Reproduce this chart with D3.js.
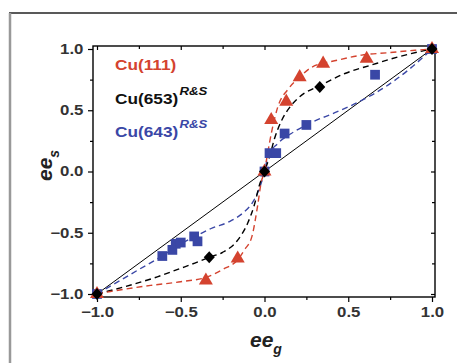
<!DOCTYPE html>
<html>
<head>
<meta charset="utf-8">
<script src="https://cdn.jsdelivr.net/npm/d3@7"></script>
<style>
  body { margin: 0; background: #fff; }
  svg { display: block; font-family: "Liberation Sans", Arial, sans-serif; }
</style>
</head>
<body>
<svg id="canvas" width="457" height="363"></svg>
<script>
// measured points (ee_g, ee_s)
var cu111X = [-1, -0.35, -0.16, 0, 0.04, 0.13, 0.21, 0.35, 0.61, 1];
var cu111Y = [-1, -0.89, -0.71, 0, 0.42, 0.57, 0.77, 0.88, 0.92, 1];
var cu653X = [-1, -0.33, 0, 0.33, 1];
var cu653Y = [-1, -0.70, 0, 0.69, 1];
var cu643X = [-1, -0.61, -0.55, -0.53, -0.50, -0.42, -0.40, 0, 0.03, 0.07, 0.12, 0.25, 0.66, 1];
var cu643Y = [-1, -0.69, -0.64, -0.59, -0.58, -0.53, -0.57, 0, 0.15, 0.15, 0.31, 0.38, 0.79, 1];

// dashed fit curves
var fit111 = [[-1,-1],[-0.92,-0.98],[-0.68,-0.93],[-0.5,-0.90],[-0.34,-0.86],[-0.25,-0.80],[-0.16,-0.72],
  [-0.12,-0.64],[-0.075,-0.53],[-0.04,-0.27],[-0.02,-0.09],[0,0],[0.015,0.12],[0.045,0.34],[0.08,0.53],
  [0.14,0.67],[0.21,0.77],[0.28,0.85],[0.44,0.91],[0.58,0.95],[0.74,0.97],[0.9,0.99],[1,1]];
var fit653 = [[-1,-1],[-0.86,-0.95],[-0.64,-0.86],[-0.5,-0.79],[-0.44,-0.76],[-0.33,-0.70],[-0.25,-0.66],
  [-0.16,-0.56],[-0.10,-0.42],[-0.06,-0.27],[-0.03,-0.11],[0,0],[0.03,0.12],[0.06,0.27],[0.10,0.41],
  [0.16,0.54],[0.21,0.61],[0.33,0.70],[0.48,0.80],[0.64,0.87],[0.81,0.94],[1,1]];
var fit643 = [[-1,-1],[-0.9,-0.92],[-0.75,-0.80],[-0.6,-0.68],[-0.5,-0.59],[-0.4,-0.52],[-0.31,-0.46],
  [-0.21,-0.41],[-0.13,-0.34],[-0.07,-0.25],[-0.04,-0.17],[0,0],[0.02,0.12],[0.08,0.23],[0.16,0.31],
  [0.28,0.40],[0.42,0.48],[0.58,0.58],[0.72,0.69],[0.86,0.83],[1,1]];

var majorTicks = [-1, -0.5, 0, 0.5, 1];
var minorTicks = [-0.75, -0.25, 0.25, 0.75];

var red = "#d4432f", blue = "#3a47a6", black = "#000";

var svg = d3.select("#canvas");

// outer frame (top black, left grey)
svg.append("line").attr("x1", 9).attr("x2", 457).attr("y1", 13).attr("y2", 13)
  .attr("stroke", "#222").attr("stroke-width", 1.5);
svg.append("line").attr("x1", 10).attr("x2", 10).attr("y1", 13).attr("y2", 363)
  .attr("stroke", "#999").attr("stroke-width", 2.5);

var x = d3.scaleLinear().domain([-1, 1]).range([97, 432]);
var y = d3.scaleLinear().domain([-1, 1]).range([294, 49]);
var L = 93, R = 435, T = 46, B = 297;

var fmt = d3.format(".1f");

// the source figure is a little stretched sideways, so are its labels
function styleAxis(g, labels) {
  g.select(".domain").remove();
  g.selectAll("line").attr("stroke", "#000").attr("stroke-width", 1.2);
  g.selectAll("text").attr("fill", "#333").style("font-size", "14px").style("font-weight", "bold")
    .attr("transform", "scale(1.2,1)");
  if (!labels) g.selectAll("text").remove();
}

// bottom
svg.append("g").attr("transform", "translate(0," + B + ")")
  .call(d3.axisBottom(x).tickValues(majorTicks).tickFormat(fmt).tickSize(5).tickPadding(5))
  .call(styleAxis, true);
svg.append("g").attr("transform", "translate(0," + B + ")")
  .call(d3.axisBottom(x).tickValues(minorTicks).tickSize(3)).call(styleAxis, false);
// left
svg.append("g").attr("transform", "translate(" + L + ",0)")
  .call(d3.axisLeft(y).tickValues(majorTicks).tickFormat(fmt).tickSize(5).tickPadding(3))
  .call(styleAxis, true);
svg.append("g").attr("transform", "translate(" + L + ",0)")
  .call(d3.axisLeft(y).tickValues(minorTicks).tickSize(3)).call(styleAxis, false);
// top (inward)
svg.append("g").attr("transform", "translate(0," + T + ")")
  .call(d3.axisTop(x).tickValues(majorTicks).tickSize(-4)).call(styleAxis, false);
svg.append("g").attr("transform", "translate(0," + T + ")")
  .call(d3.axisTop(x).tickValues(minorTicks).tickSize(-3)).call(styleAxis, false);
// right (inward)
svg.append("g").attr("transform", "translate(" + R + ",0)")
  .call(d3.axisRight(y).tickValues(majorTicks).tickSize(-4)).call(styleAxis, false);
svg.append("g").attr("transform", "translate(" + R + ",0)")
  .call(d3.axisRight(y).tickValues(minorTicks).tickSize(-3)).call(styleAxis, false);

svg.append("rect").attr("x", L).attr("y", T).attr("width", R - L).attr("height", B - T)
  .attr("fill", "none").attr("stroke", "#000").attr("stroke-width", 1.4);

// diagonal
svg.append("line").attr("x1", x(-1)).attr("y1", y(-1)).attr("x2", x(1)).attr("y2", y(1))
  .attr("stroke", "#000").attr("stroke-width", 1);

var line = d3.line().x(function(d) { return x(d[0]); }).y(function(d) { return y(d[1]); })
  .curve(d3.curveMonotoneX);

[[fit643, blue], [fit653, black], [fit111, red]].forEach(function(f) {
  svg.append("path").attr("d", line(f[0])).attr("fill", "none")
    .attr("stroke", f[1]).attr("stroke-width", 1.4).attr("stroke-dasharray", "6,4");
});

function zip(xs, ys) { return xs.map(function(v, i) { return [v, ys[i]]; }); }

svg.selectAll(".sq").data(zip(cu643X, cu643Y)).enter().append("path")
  .attr("d", d3.symbol().type(d3.symbolSquare).size(95))
  .attr("transform", function(d) { return "translate(" + x(d[0]) + "," + y(d[1]) + ")"; })
  .attr("fill", blue);

svg.selectAll(".tri").data(zip(cu111X, cu111Y)).enter().append("path")
  .attr("d", d3.symbol().type(d3.symbolTriangle).size(85))
  .attr("transform", function(d) { return "translate(" + x(d[0]) + "," + y(d[1]) + ")"; })
  .attr("fill", red);

svg.selectAll(".dia").data(zip(cu653X, cu653Y)).enter().append("path")
  .attr("d", "M0,-6L5.5,0L0,6L-5.5,0Z")
  .attr("transform", function(d) { return "translate(" + x(d[0]) + "," + y(d[1]) + ")"; })
  .attr("fill", black);

// legend
var legend = [["Cu(111)", red, false, 70], ["Cu(653)", "#111", true, 104], ["Cu(643)", blue, true, 137]];
legend.forEach(function(l) {
  var t = svg.append("text").attr("transform", "translate(115," + l[3] + ") scale(1.15,1)")
    .attr("fill", l[1]).style("font-size", "15px").style("font-weight", "bold").text(l[0]);
  if (l[2]) {
    t.append("tspan").attr("dy", -9).attr("dx", 1).style("font-size", "11.5px")
      .style("font-style", "italic").text("R&S");
  }
});

// axis titles
var xt = svg.append("text").attr("x", 250).attr("y", 347).attr("fill", "#222")
  .style("font-size", "21px").style("font-weight", "bold").style("font-style", "italic").text("ee");
xt.append("tspan").attr("dy", 7).style("font-size", "14px").text("g");

var yt = svg.append("text").attr("transform", "translate(52,181) rotate(-90)").attr("fill", "#222")
  .style("font-size", "21px").style("font-weight", "bold").style("font-style", "italic").text("ee");
yt.append("tspan").attr("dy", 7).style("font-size", "14px").text("s");
</script>
</body>
</html>
